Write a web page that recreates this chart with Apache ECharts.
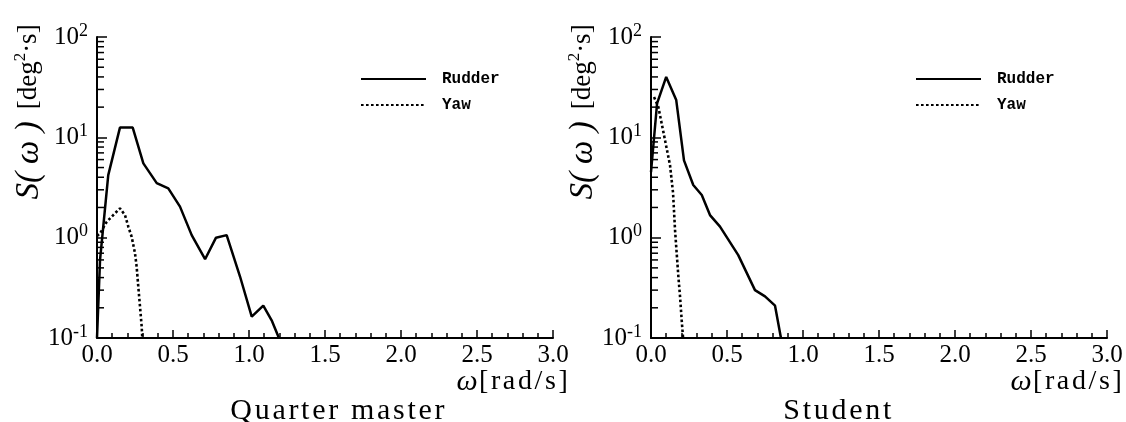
<!DOCTYPE html>
<html>
<head>
<meta charset="utf-8">
<script src="https://cdn.jsdelivr.net/npm/echarts@6/dist/echarts.min.js"></script>
<style>
  html, body { margin: 0; padding: 0; background: #fff; }
  #chart { width: 1126px; height: 422px; }
</style>
</head>
<body>
<div id="chart"></div>
<script>
// Power spectra S(ω) of rudder angle and yaw, two helmsmen.
// Frequencies in rad/s, spectral density in deg^2·s.

// Quarter master
const qmRudderW = [0, 0.02, 0.074, 0.151, 0.235, 0.305, 0.393, 0.469, 0.546, 0.623, 0.711, 0.783, 0.853, 0.941, 1.018, 1.094, 1.149, 1.197];
const qmRudderS = [0.1, 0.6, 4.2, 12.5, 12.5, 5.5, 3.5, 3.1, 2.04, 1.06, 0.61, 1.0, 1.06, 0.41, 0.163, 0.21, 0.15, 0.1];
const qmYawW = [0, 0.02, 0.064, 0.107, 0.151, 0.184, 0.206, 0.228, 0.25, 0.261, 0.272, 0.283, 0.294, 0.298];
const qmYawS = [1.04, 1.1, 1.44, 1.68, 1.96, 1.68, 1.29, 1.02, 0.70, 0.51, 0.32, 0.205, 0.13, 0.1];

// Student
const stRudderW = [0, 0.04, 0.1, 0.166, 0.217, 0.278, 0.334, 0.388, 0.454, 0.574, 0.684, 0.75, 0.816, 0.855];
const stRudderS = [4.5, 21.8, 40, 23.5, 5.9, 3.35, 2.66, 1.68, 1.29, 0.67, 0.30, 0.26, 0.21, 0.1];
const stYawW = [0.02, 0.048, 0.081, 0.105, 0.125, 0.145, 0.158, 0.169, 0.18, 0.191, 0.202, 0.211];
const stYawS = [25.2, 20.2, 11.4, 7.5, 5.3, 2.8, 1.2, 0.7, 0.41, 0.26, 0.15, 0.1];

const seriesNames = ['Rudder', 'Yaw'];
const panelTitles = ['Quarter master', 'Student'];

// Log-axis minor tick positions (2..9 in each decade)
const yMinorTicks = [];
[0.1, 1, 10].forEach(function (d) {
  for (let k = 2; k <= 9; k++) yMinorTicks.push(+(k * d).toPrecision(3));
});

const SERIF = '"Liberation Serif", "Times New Roman", serif';
const MONO = '"Liberation Mono", "DejaVu Sans Mono", monospace';

function pairs(w, s) { return w.map(function (x, i) { return [x, s[i]]; }); }
// one rich token per character, so the style's padding acts as letter spacing
function spaced(str, style) {
  return Array.from(str).map(function (c) { return '{' + style + '|' + c + '}'; }).join('');
}

const gridLefts = [97, 651];
const GRID_TOP = 37, GRID_W = 456, GRID_H = 301;

const solidLine = { color: '#000', width: 2.5, type: 'solid' };
const dottedLine = { color: '#000', width: 2.6, type: [2.6, 2.4], cap: 'butt' };

function xAxisFor(i) {
  return {
    type: 'value', gridIndex: i, min: 0, max: 3, interval: 0.5,
    axisLine: { show: true, onZero: false, lineStyle: { color: '#000', width: 2 } },
    axisTick: { show: true, inside: true, length: 8, lineStyle: { color: '#000', width: 1.5 } },
    minorTick: { show: true, splitNumber: 5, length: 5, lineStyle: { color: '#000', width: 1.5 } },
    splitLine: { show: false },
    axisLabel: {
      margin: 5, color: '#000', fontFamily: SERIF, fontSize: 25,
      formatter: function (v) { return v.toFixed(1); }
    }
  };
}

function yAxisFor(i) {
  return {
    type: 'log', logBase: 10, gridIndex: i, min: 0.1, max: 100,
    axisLine: { show: true, onZero: false, lineStyle: { color: '#000', width: 2 } },
    axisTick: { show: true, inside: true, length: 10, lineStyle: { color: '#000', width: 1.5 } },
    splitLine: { show: false },
    axisLabel: {
      margin: 9, color: '#000',
      formatter: function (v) {
        const e = Math.round(Math.log10(v));
        return '{b|10}{s|' + e + '}';
      },
      rich: {
        b: { fontFamily: SERIF, fontSize: 25, lineHeight: 30, color: '#000' },
        s: { fontFamily: SERIF, fontSize: 18, lineHeight: 18, verticalAlign: 'top', color: '#000' }
      }
    }
  };
}

function minorTickSeries(i) {
  return {
    type: 'custom', xAxisIndex: i, yAxisIndex: i, silent: true, z: 5,
    data: yMinorTicks.map(function (v) { return [0, v]; }),
    renderItem: function (params, api) {
      const p = api.coord([api.value(0), api.value(1)]);
      return {
        type: 'line',
        shape: { x1: p[0] + 1, y1: p[1], x2: p[0] + 7, y2: p[1] },
        style: { stroke: '#000', lineWidth: 1.5 }
      };
    }
  };
}

function lineSeries(name, i, w, s, style) {
  return {
    name: name, type: 'line', xAxisIndex: i, yAxisIndex: i,
    data: pairs(w, s), symbol: 'none', showSymbol: false,
    lineStyle: style, itemStyle: { color: '#000' }, z: 3
  };
}

function legendFor(left) {
  return {
    left: left, top: 66, orient: 'vertical', selectedMode: false,
    itemWidth: 65, itemHeight: 14, itemGap: 10, data: seriesNames,
    itemStyle: { opacity: 0, borderWidth: 0 },
    textStyle: { fontFamily: MONO, fontWeight: 'bold', fontSize: 16, color: '#000', padding: [0, 0, 0, 11] }
  };
}

const yNameRich = {
  s: { fontFamily: SERIF, fontStyle: 'italic', fontSize: 33, color: '#000' },
  g: { fontSize: 10, width: 12 },
  r: { fontFamily: SERIF, fontSize: 27, color: '#000' },
  sup: { fontFamily: SERIF, fontSize: 17, verticalAlign: 'top', lineHeight: 17, color: '#000' }
};

function yNameGraphic(x) {
  return {
    type: 'text', x: x, y: 112, rotation: Math.PI / 2, silent: true,
    style: {
      text: '{s|S( ω )}{g| }{r|[deg}{sup|2}{r|·s]}',
      align: 'center', verticalAlign: 'middle', rich: yNameRich
    }
  };
}

const xNameRich = {
  w: { fontFamily: SERIF, fontStyle: 'italic', fontSize: 30, color: '#000' },
  t: { fontFamily: SERIF, fontSize: 28, color: '#000', padding: [0, 1.3, 0, 1.3] }
};

function xNameGraphic(x) {
  return {
    type: 'text', x: x, y: 382, silent: true,
    style: { text: '{w|ω}' + spaced('[rad/s]', 't'), align: 'right', verticalAlign: 'middle', rich: xNameRich }
  };
}

const titleChar = { fontFamily: SERIF, fontSize: 30, color: '#000', padding: [0, 1.35, 0, 1.35] };

function titleFor(text, left) {
  return {
    text: spaced(text, 't'), left: left, top: 391,
    textStyle: { fontFamily: SERIF, fontSize: 30, fontWeight: 'normal', color: '#000', rich: { t: titleChar } }
  };
}

const option = {
  backgroundColor: '#fff',
  animation: false,
  grid: gridLefts.map(function (l) {
    return { left: l, top: GRID_TOP, width: GRID_W, height: GRID_H, containLabel: false };
  }),
  xAxis: [xAxisFor(0), xAxisFor(1)],
  yAxis: [yAxisFor(0), yAxisFor(1)],
  legend: [legendFor(355), legendFor(910)],
  title: [titleFor(panelTitles[0], 224), titleFor(panelTitles[1], 777)],
  graphic: [yNameGraphic(29), yNameGraphic(583), xNameGraphic(569), xNameGraphic(1123)],
  series: [
    lineSeries(seriesNames[0], 0, qmRudderW, qmRudderS, solidLine),
    lineSeries(seriesNames[1], 0, qmYawW, qmYawS, dottedLine),
    lineSeries(seriesNames[0], 1, stRudderW, stRudderS, solidLine),
    lineSeries(seriesNames[1], 1, stYawW, stYawS, dottedLine),
    minorTickSeries(0),
    minorTickSeries(1)
  ]
};

const chart = echarts.init(document.getElementById('chart'), null, { renderer: 'canvas' });
chart.setOption(option);
</script>
</body>
</html>
